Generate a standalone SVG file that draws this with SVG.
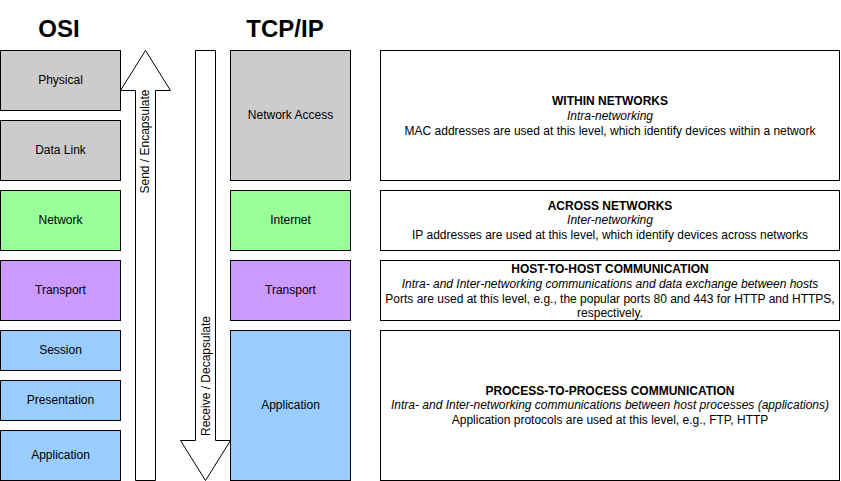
<svg xmlns="http://www.w3.org/2000/svg" width="841" height="481" viewBox="0 0 841 481">
<style>
.b{stroke:#000;stroke-width:1}
.g{fill:#CCCCCC}.n{fill:#99FF99}.p{fill:#CC99FF}.u{fill:#99CCFF}.w{fill:#FFFFFF}
text{font-family:"Liberation Sans",Arial,Helvetica,sans-serif;font-size:12px;fill:#000;text-anchor:middle}
.t{font-size:24px;font-weight:bold}
.h{font-weight:bold}
.i{font-style:italic}
</style>
<rect width="841" height="481" fill="#FFFFFF"/>
<text class="t" x="59" y="37">OSI</text>
<text class="t" x="285" y="37">TCP/IP</text>
<g id="connectors">
<g id="send-arrow">
<polygon class="b w" points="145.5,50.5 170.5,90.5 155.5,90.5 155.5,480.5 135.5,480.5 135.5,90.5 120.5,90.5"/>
<text transform="translate(148.5,141.5) rotate(-90)">Send / Encapsulate</text>
</g>
<g id="receive-arrow">
<polygon class="b w" points="195.5,50.5 215.5,50.5 215.5,440.5 230.5,440.5 205.5,480.5 180.5,440.5 195.5,440.5"/>
<text transform="translate(209.5,376) rotate(-90)">Receive / Decapsulate</text>
</g>
</g>
<g id="osi-physical"><rect class="b g" x="0.5" y="50.5" width="120" height="60"/><text x="60.5" y="83.5">Physical</text></g>
<g id="osi-datalink"><rect class="b g" x="0.5" y="120.5" width="120" height="60"/><text x="60.5" y="153.5">Data Link</text></g>
<g id="osi-network"><rect class="b n" x="0.5" y="190.5" width="120" height="60"/><text x="60.5" y="223.5">Network</text></g>
<g id="osi-transport"><rect class="b p" x="0.5" y="260.5" width="120" height="60"/><text x="60.5" y="293.5">Transport</text></g>
<g id="osi-session"><rect class="b u" x="0.5" y="330.5" width="120" height="40"/><text x="60.5" y="353.5">Session</text></g>
<g id="osi-presentation"><rect class="b u" x="0.5" y="380.5" width="120" height="40"/><text x="60.5" y="403.5">Presentation</text></g>
<g id="osi-application"><rect class="b u" x="0.5" y="430.5" width="120" height="50"/><text x="60.5" y="458.5">Application</text></g>
<g id="tcp-netaccess"><rect class="b g" x="230.5" y="50.5" width="120" height="130"/><text x="290.5" y="118.5">Network Access</text></g>
<g id="tcp-internet"><rect class="b n" x="230.5" y="190.5" width="120" height="60"/><text x="290.5" y="223.5">Internet</text></g>
<g id="tcp-transport"><rect class="b p" x="230.5" y="260.5" width="120" height="60"/><text x="290.5" y="293.5">Transport</text></g>
<g id="tcp-application"><rect class="b u" x="230.5" y="330.5" width="120" height="150"/><text x="290.5" y="408.5">Application</text></g>
<g id="desc-within"><rect class="b w" x="380.5" y="50.5" width="459" height="130"/>
<text class="h" x="610" y="105">WITHIN NETWORKS</text>
<text class="i" x="610" y="119.5">Intra-networking</text>
<text x="610" y="134.5">MAC addresses are used at this level, which identify devices within a network</text></g>
<g id="desc-across"><rect class="b w" x="380.5" y="190.5" width="459" height="60"/>
<text class="h" x="610" y="209.5">ACROSS NETWORKS</text>
<text class="i" x="610" y="224">Inter-networking</text>
<text x="610" y="239">IP addresses are used at this level, which identify devices across networks</text></g>
<g id="desc-host"><rect class="b w" x="380.5" y="260.5" width="459" height="60"/>
<text class="h" x="610" y="273">HOST-TO-HOST COMMUNICATION</text>
<text class="i" x="610" y="287.5">Intra- and Inter-networking communications and data exchange between hosts</text>
<text x="610" y="302.5">Ports are used at this level, e.g., the popular ports 80 and 443 for HTTP and HTTPS,</text>
<text x="610" y="317">respectively.</text></g>
<g id="desc-process"><rect class="b w" x="380.5" y="330.5" width="459" height="150"/>
<text class="h" x="610" y="394.5">PROCESS-TO-PROCESS COMMUNICATION</text>
<text class="i" x="610" y="409">Intra- and Inter-networking communications between host processes (applications)</text>
<text x="610" y="424">Application protocols are used at this level, e.g., FTP, HTTP</text></g>
</svg>
